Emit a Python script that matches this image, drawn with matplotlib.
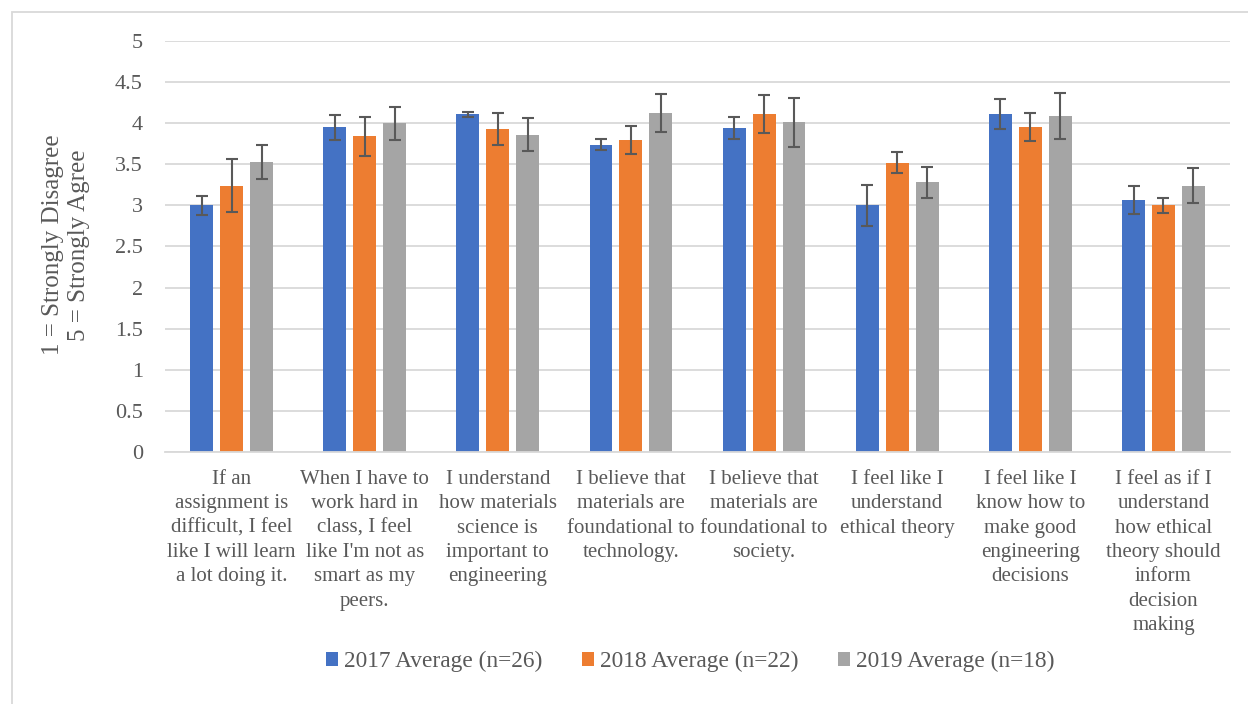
import matplotlib.pyplot as plt
from matplotlib.patches import Rectangle
import numpy as np

plt.rcParams['font.family'] = ['Liberation Serif', 'DejaVu Serif']

categories = [
    "If an\nassignment is\ndifficult, I feel\nlike I will learn\na lot doing it.",
    "When I have to\nwork hard in\nclass, I feel\nlike I'm not as\nsmart as my\npeers.",
    "I understand\nhow materials\nscience is\nimportant to\nengineering",
    "I believe that\nmaterials are\nfoundational to\ntechnology.",
    "I believe that\nmaterials are\nfoundational to\nsociety.",
    "I feel like I\nunderstand\nethical theory",
    "I feel like I\nknow how to\nmake good\nengineering\ndecisions",
    "I feel as if I\nunderstand\nhow ethical\ntheory should\ninform\ndecision\nmaking",
]
series = ["2017 Average (n=26)", "2018 Average (n=22)", "2019 Average (n=18)"]
avg_2017 = [3.00, 3.95, 4.11, 3.74, 3.94, 3.00, 4.11, 3.06]
avg_2018 = [3.24, 3.84, 3.93, 3.79, 4.11, 3.52, 3.95, 3.00]
avg_2019 = [3.53, 4.00, 3.86, 4.12, 4.01, 3.28, 4.09, 3.24]
err_2017 = [0.12, 0.15, 0.03, 0.07, 0.13, 0.25, 0.18, 0.17]
err_2018 = [0.32, 0.24, 0.19, 0.17, 0.23, 0.13, 0.17, 0.09]
err_2019 = [0.21, 0.20, 0.20, 0.23, 0.30, 0.19, 0.28, 0.21]
colors = ['#4472C4', '#ED7D31', '#A5A5A5']

txt = '#595959'
fig = plt.figure(figsize=(12.48, 7.04), dpi=100)
ax = fig.add_axes([0.1322, 0.358, 0.8534, 0.5838])

x = np.arange(len(categories))
offs = [-0.225, 0, 0.225]
vals = [avg_2017, avg_2018, avg_2019]
errs = [err_2017, err_2018, err_2019]
for i in range(3):
    ax.bar(x + offs[i], vals[i], width=0.172, color=colors[i], label=series[i], zorder=2)
    ax.errorbar(x + offs[i], vals[i], yerr=errs[i], fmt='none', ecolor='#595959',
                elinewidth=1.5, capsize=4.5, capthick=1.5, zorder=3)

ax.set_xlim(-0.5, len(categories) - 0.5)
ax.set_ylim(0, 5)
ax.set_yticks(np.arange(0, 5.01, 0.5))
ax.set_yticklabels(['0', '0.5', '1', '1.5', '2', '2.5', '3', '3.5', '4', '4.5', '5'])
ax.yaxis.grid(True, color='#d9d9d9', linewidth=1.3, zorder=0)
ax.set_axisbelow(True)
for s in ['top', 'right', 'left']:
    ax.spines[s].set_visible(False)
ax.spines['bottom'].set_color('#d9d9d9')
ax.spines['bottom'].set_linewidth(1.3)
ax.tick_params(axis='both', length=0, labelcolor=txt)
ax.tick_params(axis='y', pad=16, labelsize=16)
ax.tick_params(axis='x', pad=13, labelsize=15)
ax.set_xticks(x)
ax.set_xticklabels(categories, linespacing=1.38, va='top')

fig.text(0.053, 0.652, "1 = Strongly Disagree\n5 = Strongly Agree", rotation=90,
         ha='center', va='center', fontsize=18, color=txt, linespacing=1.22)

leg = ax.legend(loc='center', ncol=3, frameon=False, fontsize=16.8,
                handlelength=0.52, handleheight=0.52, handletextpad=0.25,
                columnspacing=1.7, labelcolor=txt)
leg.set_bbox_to_anchor((0.553, 0.06), transform=fig.transFigure)

fig.patches.append(Rectangle((0.0096, -0.01), 1.0, 0.993, transform=fig.transFigure,
                             fill=False, edgecolor='#d9d9d9', linewidth=1.3))

fig.savefig('out.png', dpi=100)
